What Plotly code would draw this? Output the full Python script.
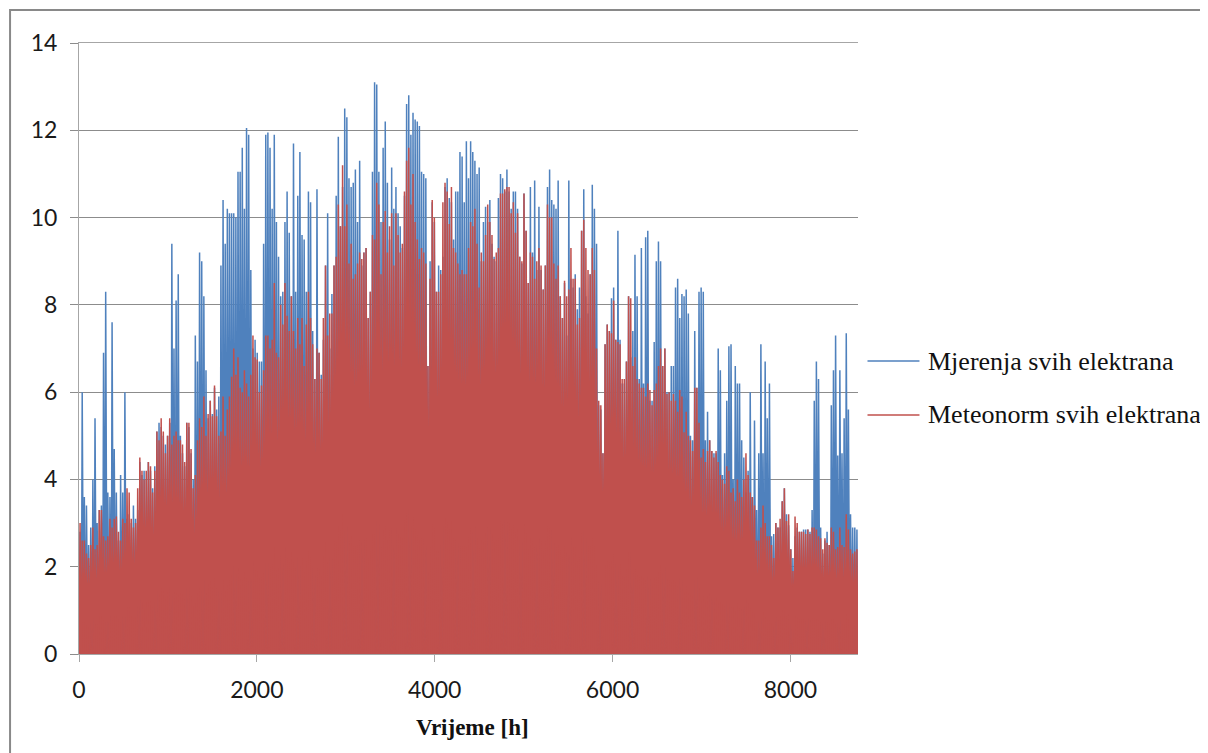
import plotly.graph_objects as go

# daily peak output, one value per day of the year
mjerenja_peaks = [
    2.8, 6.0, 3.6, 3.4, 2.5, 2.9, 4.0, 5.4, 3.0, 3.3,
    3.4, 6.9, 8.3, 3.7, 3.6, 7.6, 4.7, 3.7, 2.6, 4.1,
    3.7, 6.0, 3.1, 3.2, 3.0, 3.4, 3.1, 3.3, 4.4, 4.1,
    4.2, 4.0, 4.4, 4.2, 3.8, 4.3, 5.1, 5.3, 5.2, 5.0,
    4.8, 5.0, 5.3, 9.4, 7.0, 8.1, 8.7, 5.0, 4.6, 4.3,
    5.3, 5.2, 4.6, 4.0, 7.3, 6.7, 9.2, 9.0, 8.2, 6.5,
    5.4, 5.8, 5.5, 6.1, 5.6, 5.9, 8.9, 10.4, 9.4, 10.2,
    10.1, 10.1, 10.1, 10.0, 11.05, 11.05, 11.6, 10.2, 12.05, 11.9,
    8.8, 7.0, 7.2, 6.9, 6.7, 6.7, 9.4, 11.9, 11.95, 11.6,
    10.2, 11.9, 9.9, 9.1, 8.2, 8.3, 9.9, 10.6, 9.65, 8.2,
    11.7, 8.3, 10.5, 11.5, 9.6, 9.5, 8.3, 10.6, 10.35, 7.4,
    6.3, 10.65, 6.9, 6.4, 7.2, 8.9, 10.1, 7.0, 8.25, 8.9,
    10.5, 11.85, 9.8, 10.7, 12.5, 12.3, 10.9, 10.7, 10.8, 11.1,
    9.9, 11.3, 8.9, 9.2, 9.3, 7.7, 8.3, 11.05, 13.1, 13.05,
    11.05, 9.9, 11.6, 12.2, 10.8, 9.5, 11.15, 10.2, 10.7, 10.1,
    9.8, 9.3, 10.5, 12.6, 12.8, 11.9, 12.4, 12.25, 12.2, 12.1,
    11.05, 11.0, 10.9, 6.6, 9.0, 10.35, 9.9, 8.3, 8.9, 8.8,
    9.1, 10.7, 10.9, 10.45, 10.35, 9.5, 10.6, 10.6, 11.5, 11.4,
    10.35, 11.75, 10.9, 11.75, 11.5, 11.3, 11.0, 11.15, 9.0, 9.9,
    10.25, 9.9, 10.4, 9.4, 9.1, 9.0, 10.45, 11.0, 10.9, 10.6,
    11.1, 10.6, 10.2, 10.6, 10.6, 10.2, 9.1, 8.95, 10.55, 9.7,
    8.5, 10.7, 9.2, 10.85, 8.8, 10.25, 8.8, 8.35, 8.9, 10.7,
    11.1, 10.4, 10.3, 10.2, 10.85, 8.2, 7.7, 8.5, 7.3, 10.85,
    8.6, 8.4, 8.7, 7.9, 8.4, 9.7, 10.65, 8.2, 7.8, 8.7,
    10.75, 10.2, 9.4, 5.7, 5.6, 4.6, 7.1, 7.55, 7.4, 8.15,
    8.4, 7.2, 9.7, 7.2, 6.2, 6.2, 6.7, 8.2, 6.8, 7.4,
    9.15, 8.2, 6.3, 9.3, 6.2, 9.55, 9.7, 5.8, 5.8, 7.15,
    9.0, 9.45, 9.0, 6.6, 7.0, 6.0, 6.0, 6.6, 6.6, 8.4,
    8.6, 7.7, 8.25, 8.2, 8.35, 7.8, 5.0, 4.9, 7.4, 6.1,
    8.3, 8.4, 8.3, 4.9, 5.55, 4.9, 4.65, 4.6, 4.6, 7.0,
    6.5, 4.1, 4.6, 5.8, 7.05, 7.1, 4.0, 6.6, 6.2, 6.2,
    4.9, 4.5, 3.7, 4.2, 6.0, 3.6, 5.35, 3.3, 4.6, 7.1,
    4.6, 6.7, 5.4, 6.2, 2.7, 2.75, 3.0, 2.9, 2.9, 3.5,
    3.8, 3.2, 2.95, 2.4, 2.2, 2.7, 2.9, 2.8, 2.8, 2.85,
    2.85, 2.85, 2.8, 3.3, 5.8, 6.7, 6.3, 2.9, 2.3, 2.6,
    2.8, 2.5, 5.7, 6.5, 7.3, 4.55, 6.5, 4.6, 5.4, 7.35,
    5.6, 3.2, 2.9, 2.9, 2.85,
]

meteonorm_peaks = [
    3.0, 2.6, 2.6, 2.3, 2.2, 2.5, 2.9, 2.4, 2.5, 3.3,
    3.3, 2.7, 2.6, 2.7, 3.1, 2.9, 3.1, 3.15, 2.8, 2.6,
    3.1, 3.0, 3.8, 3.7, 3.1, 2.9, 3.0, 3.8, 4.5, 4.2,
    4.0, 4.2, 4.4, 4.3, 3.7, 4.2, 5.1, 4.9, 5.4, 5.1,
    4.6, 5.0, 5.4, 4.8, 5.0, 5.1, 4.9, 4.9, 4.8, 4.4,
    5.3, 5.3, 4.7, 3.8, 4.1, 4.9, 5.4, 5.2, 5.9, 5.0,
    5.5, 5.8, 5.45, 6.15, 5.45, 5.0, 5.1, 5.9, 5.0, 5.6,
    5.9, 6.35, 7.0, 6.4, 6.8, 6.1, 6.0, 6.5, 6.2, 5.9,
    6.4, 7.3, 6.8, 6.75, 6.0, 6.15, 6.5, 7.3, 7.3, 7.0,
    7.2, 8.5, 6.9, 6.8, 8.0, 7.55, 8.5, 7.75, 7.4, 8.2,
    7.4, 7.0, 7.7, 7.1, 7.7, 6.6, 7.55, 8.3, 7.7, 7.1,
    6.3, 7.0, 6.9, 6.3, 7.7, 8.9, 7.3, 7.8, 7.8, 8.9,
    9.1, 10.3, 9.8, 11.2, 9.8, 10.3, 8.95, 9.4, 8.6, 8.7,
    8.95, 9.2, 9.05, 9.2, 9.3, 7.7, 8.3, 9.6, 9.5, 10.8,
    10.3, 8.7, 9.9, 10.15, 9.2, 9.8, 10.1, 8.9, 10.1, 9.6,
    9.2, 9.4, 10.6, 11.3, 11.6, 10.3, 11.0, 9.9, 9.5, 9.05,
    9.3, 9.2, 8.95, 6.6, 8.6, 10.4, 10.0, 8.3, 8.3, 8.7,
    10.35, 10.8, 10.6, 9.85, 10.7, 9.3, 9.2, 8.95, 8.7, 8.8,
    8.7, 8.7, 9.3, 9.9, 9.8, 10.2, 9.4, 8.4, 9.2, 9.0,
    9.6, 10.3, 9.9, 9.6, 9.05, 9.2, 9.3, 10.55, 10.55, 10.65,
    10.7, 10.7, 10.1, 10.35, 9.65, 10.1, 9.1, 9.0, 10.55, 9.7,
    8.5, 9.2, 9.1, 8.6, 9.0, 9.3, 8.9, 8.35, 8.9, 10.3,
    10.0, 10.0, 8.95, 8.6, 8.9, 8.2, 7.7, 8.55, 8.2, 8.35,
    9.3, 8.6, 8.6, 7.55, 7.7, 9.7, 9.95, 9.3, 8.8, 8.7,
    9.3, 8.8, 7.0, 5.8, 5.7, 4.6, 7.1, 7.55, 7.4, 7.35,
    8.1, 7.2, 7.15, 7.1, 6.3, 6.3, 6.7, 8.2, 8.15, 6.6,
    6.8, 6.3, 6.2, 6.1, 6.1, 5.9, 6.2, 6.05, 5.7, 6.05,
    6.2, 6.6, 7.0, 6.6, 7.0, 5.96, 6.0, 5.8, 5.96, 5.8,
    5.55, 6.05, 5.9, 5.08, 5.55, 5.0, 4.9, 4.65, 6.1, 6.1,
    5.3, 4.5, 4.7, 4.4, 4.65, 4.9, 4.65, 4.5, 4.65, 4.4,
    4.1, 4.0, 3.9, 4.3, 4.2, 3.7, 3.8, 3.5, 4.0, 3.7,
    3.6, 4.0, 4.6, 4.1, 3.7, 3.6, 3.4, 2.6, 2.6, 2.9,
    3.4, 3.0, 2.7, 2.7, 2.5, 2.2, 3.0, 2.9, 3.1, 3.5,
    3.8, 3.05, 3.2, 2.4, 1.9, 3.15, 3.0, 2.8, 2.8, 2.8,
    2.75, 2.85, 2.75, 2.9, 2.9, 2.85, 2.7, 2.65, 2.4, 2.65,
    2.55, 2.5, 2.9, 2.8, 2.4, 2.45, 2.9, 2.5, 2.45, 3.2,
    2.85, 2.4, 2.3, 2.35, 2.4,
]

x_ticks = [0, 2000, 4000, 6000, 8000]
y_ticks = [0, 2, 4, 6, 8, 10, 12, 14]
series_names = ['Mjerenja svih elektrana', 'Meteonorm svih elektrana']
blue = '#4F81BD'
red = '#C0504D'
grid = '#8c8c8c'

# each day: zero at sunrise, peak at noon, zero at sunset (hours of the year)
sunrise, noon, sunset = 3, 12, 21


def hourly(peaks):
    x, y = [], []
    for day, peak in enumerate(peaks):
        h0 = day * 24
        x += [h0 + sunrise, h0 + noon, h0 + sunset]
        y += [0, peak, 0]
    return x, y


fig = go.Figure()
for peaks, name, col in [(mjerenja_peaks, series_names[0], blue),
                         (meteonorm_peaks, series_names[1], red)]:
    hx, hy = hourly(peaks)
    fig.add_trace(go.Scatter(x=hx, y=hy, mode='lines', name=name,
                             line=dict(color=col, width=1.5),
                             fill='tozeroy', fillcolor=col,
                             showlegend=False, hoverinfo='skip'))

tick_font = dict(family='Lato, Open Sans, sans-serif', size=23, color='#1a1a1a')
serif = 'Liberation Serif, Times New Roman, serif'

# page adds an 8px body margin, so the figure is 8px smaller each way
fig.update_layout(
    width=1200, height=745,
    margin=dict(l=71, r=350, t=35, b=99),
    paper_bgcolor='white', plot_bgcolor='white',
    xaxis=dict(range=[0, 8760], tickvals=x_ticks, showgrid=False, zeroline=False,
               showline=True, linecolor='#a6a6a6', linewidth=1, mirror=True,
               ticks='outside', ticklen=7, tickcolor='#a6a6a6',
               tickfont=tick_font, ticklabelstandoff=8),
    yaxis=dict(range=[0, 14], tickvals=y_ticks, showgrid=True, gridcolor=grid,
               gridwidth=1, zeroline=False, showline=True, linecolor='#a6a6a6',
               ticks='outside', ticklen=8, tickcolor=grid,
               tickfont=tick_font, ticklabelstandoff=8),
)

# outer chart border (right and bottom edges fall outside the picture)
fig.add_shape(type='rect', xref='paper', yref='paper',
              x0=-0.0885, x1=1.7, y0=-0.35, y1=1.054,
              line=dict(color='#898989', width=2), fillcolor='rgba(0,0,0,0)')

# legend drawn by hand to match spacing
for name, col, ly in [(series_names[0], blue, 0.4795), (series_names[1], red, 0.3912)]:
    fig.add_shape(type='line', xref='paper', yref='paper',
                  x0=1.0122, x1=1.0789, y0=ly, y1=ly,
                  line=dict(color=col, width=1.5))
    fig.add_annotation(text=name, xref='paper', yref='paper', x=1.0879, y=ly,
                       xanchor='left', yanchor='middle', showarrow=False,
                       font=dict(family=serif, size=26, color='#111111'))

fig.add_annotation(text='<b>Vrijeme [h]</b>', xref='paper', yref='paper',
                   x=0.5055, y=-0.1195, xanchor='center', yanchor='middle',
                   showarrow=False, font=dict(family=serif, size=23, color='#111111'))

fig.write_html('out.html')
